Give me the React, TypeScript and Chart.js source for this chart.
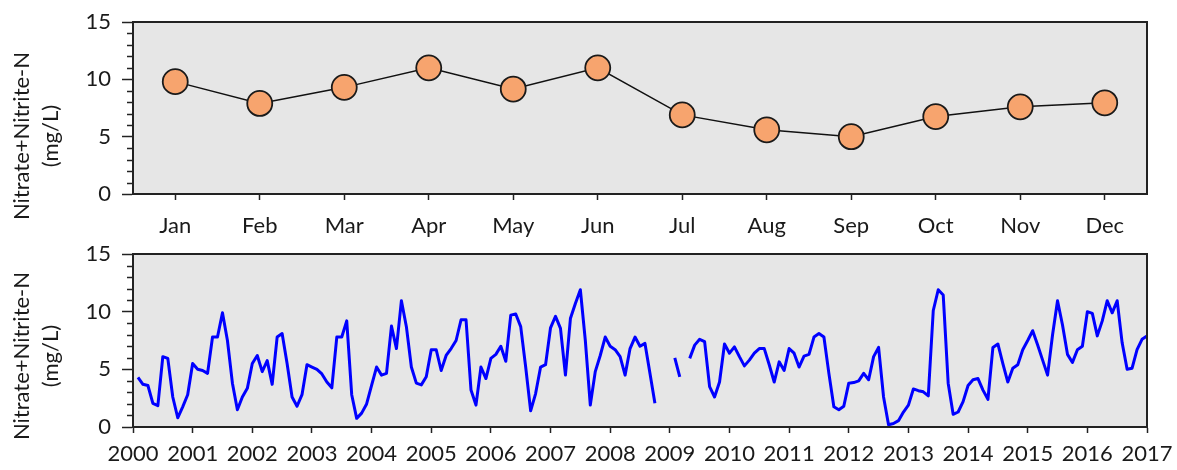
import React, { useEffect, useRef } from 'react';
import { Chart, registerables } from 'chart.js';
Chart.register(...registerables);

// ---- Top chart data (monthly means) ----
const monthLabels = ['Jan', 'Feb', 'Mar', 'Apr', 'May', 'Jun', 'Jul', 'Aug', 'Sep', 'Oct', 'Nov', 'Dec'];
const monthlyMeans = [9.8, 7.9, 9.3, 11.0, 9.15, 11.0, 6.9, 5.6, 5.0, 6.75, 7.6, 7.95];

// ---- Bottom chart data (monthly values per year, null = missing) ----
const y2000 = [4.3, 3.7, 3.6, 2.05, 1.85, 6.1, 5.95, 2.6, 0.8, 1.75, 2.8, 5.5];
const y2001 = [5.0, 4.9, 4.65, 7.8, 7.8, 9.9, 7.5, 3.8, 1.5, 2.6, 3.35, 5.5];
const y2002 = [6.2, 4.8, 5.75, 3.7, 7.8, 8.1, 5.5, 2.6, 1.8, 2.8, 5.4, 5.2];
const y2003 = [5.0, 4.6, 3.9, 3.4, 7.8, 7.8, 9.2, 2.8, 0.75, 1.2, 2.0, 3.6];
const y2004 = [5.2, 4.5, 4.65, 8.75, 6.8, 10.95, 8.7, 5.2, 3.8, 3.65, 4.35, 6.7];
const y2005 = [6.7, 4.9, 6.2, 6.8, 7.5, 9.3, 9.3, 3.2, 1.9, 5.2, 4.2, 5.95];
const y2006 = [6.3, 7.0, 5.7, 9.7, 9.8, 8.7, 5.2, 1.4, 2.9, 5.2, 5.4, 8.6];
const y2007 = [9.6, 8.55, 4.5, 9.4, 10.7, 11.9, 7.5, 1.9, 4.8, 6.2, 7.8, 7.0];
const y2008 = [6.7, 6.1, 4.5, 6.8, 7.8, 7.0, 7.25, 4.65, 2.05, null, null, null];
const y2009 = [6.0, 4.35, null, 5.95, 7.1, 7.6, 7.4, 3.5, 2.6, 3.9, 7.2, 6.4];
const y2010 = [6.95, 6.1, 5.3, 5.8, 6.4, 6.8, 6.8, 5.4, 3.9, 5.65, 4.9, 6.8];
const y2011 = [6.4, 5.2, 6.15, 6.3, 7.8, 8.1, 7.8, 4.65, 1.75, 1.5, 1.8, 3.8];
const y2012 = [3.85, 4.0, 4.65, 4.1, 6.1, 6.9, 2.6, 0.2, 0.3, 0.55, 1.3, 1.9];
const y2013 = [3.3, 3.15, 3.05, 2.7, 10.1, 11.9, 11.45, 3.8, 1.1, 1.3, 2.2, 3.6];
const y2014 = [4.1, 4.2, 3.2, 2.4, 6.9, 7.2, 5.5, 3.9, 5.1, 5.4, 6.7, 7.5];
const y2015 = [8.35, 7.1, 5.8, 4.5, 8.0, 10.95, 8.85, 6.3, 5.6, 6.7, 7.0, 10.0];
const y2016 = [9.85, 7.9, 9.2, 10.95, 9.9, 10.95, 7.3, 5.0, 5.1, 6.7, 7.6, 7.9];

const firstYear = 2000;
const yearTickLabels = ['2000', '2001', '2002', '2003', '2004', '2005', '2006', '2007', '2008',
  '2009', '2010', '2011', '2012', '2013', '2014', '2015', '2016', '2017'];
const yTitleLines = ['Nitrate+Nitrite-N', '(mg/L)'];

const FONT_FAMILY = 'Lato, "Open Sans", sans-serif';
const TEXT_COLOR = '#1a1a1a';
const AXIS_COLOR = '#222222';

function buildSeries() {
  const years = [y2000, y2001, y2002, y2003, y2004, y2005, y2006, y2007, y2008,
    y2009, y2010, y2011, y2012, y2013, y2014, y2015, y2016];
  const pts: { x: number; y: number | null }[] = [];
  years.forEach((vals, yi) => {
    vals.forEach((v, m) => {
      pts.push({ x: firstYear + yi + (m + 1) / 12, y: v });
    });
  });
  return pts;
}

function makeDecor(titleCenterY: number) {
  return {
    id: 'decor',
    beforeDraw(chart: any) {
      const { ctx, chartArea: a } = chart;
      ctx.save();
      ctx.fillStyle = '#E6E6E6';
      ctx.fillRect(a.left, a.top, a.right - a.left, a.bottom - a.top);
      ctx.restore();
    },
    afterDraw(chart: any) {
      const { ctx, chartArea: a } = chart;
      const ys = chart.scales.y;
      ctx.save();
      ctx.strokeStyle = AXIS_COLOR;
      ctx.lineWidth = 1.5;
      for (let v = 0; v <= 15; v++) {
        if (v % 5 === 0) continue;
        const py = Math.round(ys.getPixelForValue(v)) + 0.5;
        ctx.beginPath();
        ctx.moveTo(a.left - 6, py);
        ctx.lineTo(a.left, py);
        ctx.stroke();
      }
      ctx.lineWidth = 2;
      ctx.strokeStyle = AXIS_COLOR;
      ctx.strokeRect(a.left, a.top, a.right - a.left, a.bottom - a.top);
      ctx.fillStyle = TEXT_COLOR;
      ctx.font = `22px ${FONT_FAMILY}`;
      ctx.textAlign = 'center';
      ctx.textBaseline = 'middle';
      const xs = [22, 51];
      yTitleLines.forEach((line, i) => {
        ctx.save();
        ctx.translate(xs[i], titleCenterY);
        ctx.rotate(-Math.PI / 2);
        ctx.fillText(line, 0, 0);
        ctx.restore();
      });
      ctx.restore();
    },
  };
}

const tickFont = { family: FONT_FAMILY, size: 22 };

function yScale() {
  return {
    min: 0,
    max: 15,
    ticks: { stepSize: 5, font: tickFont, color: TEXT_COLOR, padding: 11 },
    grid: { drawOnChartArea: false, tickLength: 11, tickColor: AXIS_COLOR, tickWidth: 1.5 },
    border: { display: true, color: AXIS_COLOR, width: 2 },
    afterFit: (s: any) => { s.width = 133; s.paddingTop = 0; s.paddingBottom = 0; },
  };
}

export default function App() {
  const topRef = useRef<HTMLCanvasElement | null>(null);
  const botRef = useRef<HTMLCanvasElement | null>(null);

  useEffect(() => {
    const top = new Chart(topRef.current!, {
      type: 'line',
      data: {
        labels: monthLabels,
        datasets: [{
          data: monthlyMeans,
          borderColor: '#111111',
          borderWidth: 1.5,
          pointRadius: 12.5,
          pointHoverRadius: 12.5,
          pointBackgroundColor: '#F7A46E',
          pointBorderColor: '#1a1a1a',
          pointBorderWidth: 1.8,
          tension: 0,
        }],
      },
      options: {
        responsive: false,
        animation: false,
        events: [],
        layout: { padding: { top: 22, right: 30, left: 0, bottom: 0 } },
        plugins: { legend: { display: false }, tooltip: { enabled: false } },
        scales: {
          x: {
            type: 'category',
            offset: true,
            grid: { drawOnChartArea: false, offset: false, tickLength: 6, tickColor: AXIS_COLOR, tickWidth: 1.5 },
            border: { display: true, color: AXIS_COLOR, width: 2 },
            ticks: { font: tickFont, color: TEXT_COLOR, padding: 13, maxRotation: 0 },
            afterFit: (s: any) => { s.height = 46; s.paddingLeft = 0; s.paddingRight = 0; },
          },
          y: yScale() as any,
        },
      },
      plugins: [makeDecor(136)],
    } as any);

    const bottom = new Chart(botRef.current!, {
      type: 'line',
      data: {
        datasets: [{
          data: buildSeries() as any,
          borderColor: '#0000FF',
          borderWidth: 3,
          borderJoinStyle: 'round',
          pointRadius: 0,
          spanGaps: false,
          tension: 0,
        }],
      },
      options: {
        responsive: false,
        animation: false,
        events: [],
        layout: { padding: { top: 14, right: 30, left: 0, bottom: 0 } },
        plugins: { legend: { display: false }, tooltip: { enabled: false } },
        scales: {
          x: {
            type: 'linear',
            min: 2000,
            max: 2017,
            grid: { drawOnChartArea: false, tickLength: 6, tickColor: AXIS_COLOR, tickWidth: 1.5 },
            border: { display: true, color: AXIS_COLOR, width: 2 },
            ticks: {
              stepSize: 1,
              autoSkip: false,
              maxRotation: 0,
              font: tickFont,
              color: TEXT_COLOR,
              padding: 8,
              callback: (v: any) => yearTickLabels[Math.round(Number(v)) - firstYear] ?? '',
            },
            afterFit: (s: any) => { s.height = 43; s.paddingLeft = 0; s.paddingRight = 0; },
          },
          y: yScale() as any,
        },
      },
      plugins: [makeDecor(116)],
    } as any);

    return () => {
      top.destroy();
      bottom.destroy();
    };
  }, []);

  return (
    <div style={{ position: 'fixed', left: 0, top: 0, width: 1177, height: 470, background: '#ffffff' }}>
      <canvas ref={topRef} width={1177} height={240} style={{ display: 'block', width: 1177, height: 240 }} />
      <canvas ref={botRef} width={1177} height={230} style={{ display: 'block', width: 1177, height: 230 }} />
    </div>
  );
}
